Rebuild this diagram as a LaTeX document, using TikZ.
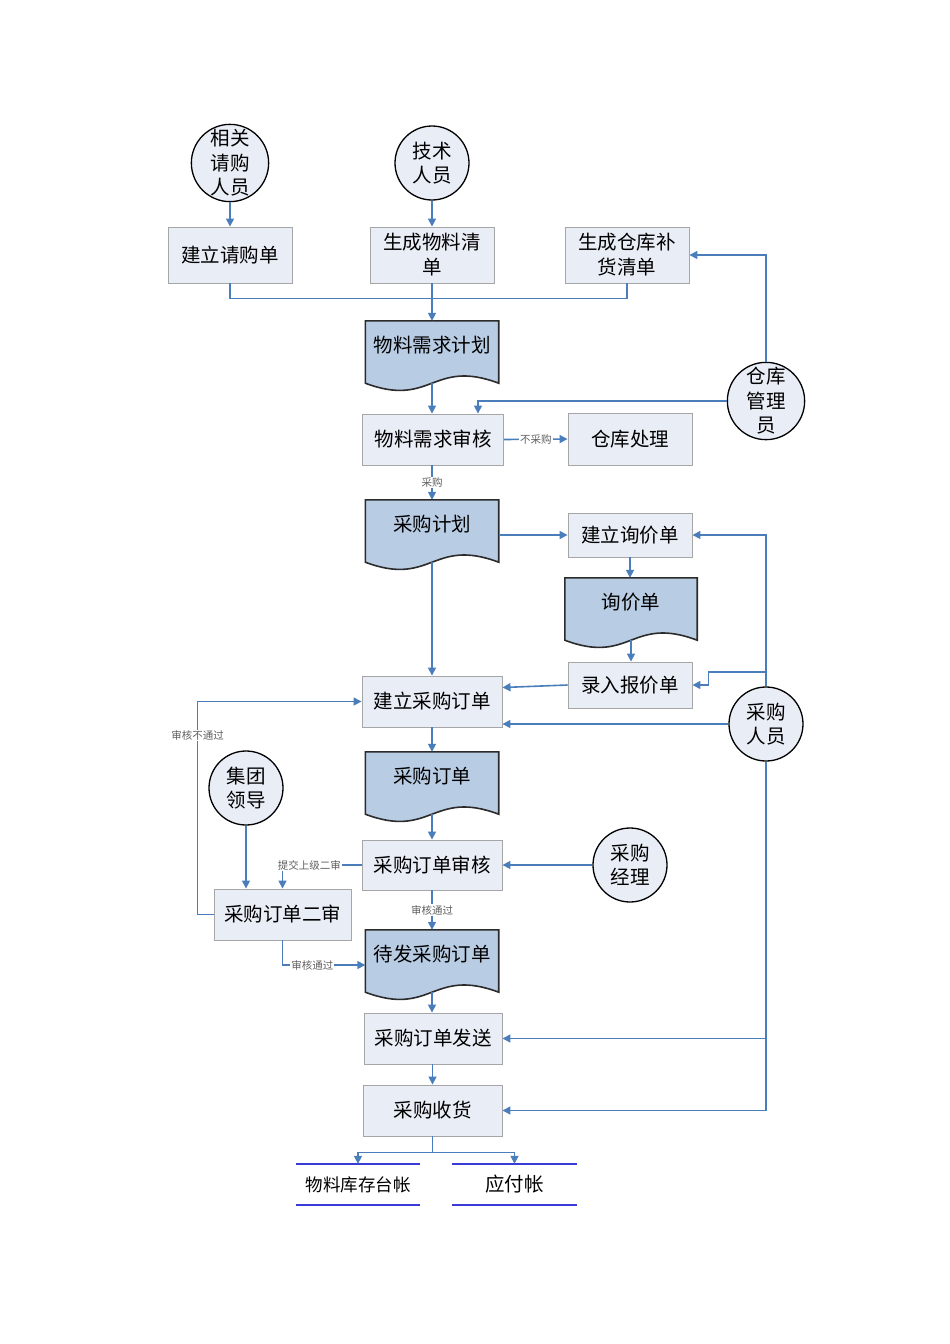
\documentclass[tikz,border=0pt]{standalone}
\usepackage{fontspec}
\setmainfont{Noto Sans CJK SC}
\usetikzlibrary{arrows.meta}
\definecolor{boxfill}{HTML}{E9EDF6}
\definecolor{boxline}{HTML}{A6A6A6}
\definecolor{docfill}{HTML}{B8CCE4}
\definecolor{docline}{HTML}{2B2B2B}
\definecolor{arrcol}{HTML}{4A7EBB}
\definecolor{storecol}{HTML}{3A3AD8}
\definecolor{lblcol}{HTML}{606060}
\tikzset{
  box/.style={draw=boxline, fill=boxfill, line width=0.9pt, inner sep=0pt, align=center,
    font=\fontsize{19.5}{25}\selectfont},
  circ/.style={circle, draw=black, fill=boxfill, line width=1.3pt, minimum size=74pt, inner sep=0pt,
    align=center, font=\fontsize{19.5}{24.5}\selectfont},
  docrect/.style={minimum height=70pt, inner sep=0pt},
  docpath/.style={draw=docline, fill=docfill, line width=1.6pt},
  doctext/.style={font=\fontsize{19.5}{25}\selectfont, inner sep=0pt},
  arr/.style={draw=arrcol, line width=1.6pt, -{Triangle[length=8pt,width=8pt]}},
  con/.style={draw=arrcol, line width=1.6pt},
  lbl/.style={fill=white, text=lblcol, inner sep=1pt, font=\fontsize{10.5}{11}\selectfont},
  store/.style={inner sep=0pt, minimum width=124pt, minimum height=41pt},
  storeline/.style={draw=storecol, line width=1.7pt},
}
\newcommand{\docu}[5]{%
  \node[docrect, minimum width=#4pt] (#1) at (#2,#3+35) {};
  \draw[docpath] (#1.north west) -- (#1.north east) -- ([yshift=8pt]#1.south east)
    .. controls ([xshift={-0.5*#4},yshift=33pt]#1.south east) and ([xshift={0.5*#4},yshift=-17pt]#1.south west)
    .. ([yshift=8pt]#1.south west) -- cycle;
  \node[doctext] at ([yshift=-24pt]#1.north) {#5};
}
\begin{document}
\begin{tikzpicture}[x=1pt,y=-1pt]
\useasboundingbox (0,0) rectangle (950,1344);

% top row
\node[circ] (c1) at (230,163) {相关\\请购\\人员};
\node[circ] (c2) at (432,163) {技术\\人员};
\node[box, minimum width=124pt, minimum height=56pt] (b1) at (230,255) {建立请购单};
\node[box, minimum width=124pt, minimum height=56pt] (b2) at (432,255) {生成物料清\\单};
\node[box, minimum width=124pt, minimum height=56pt] (b3) at (627,255) {生成仓库补\\货清单};

\draw[arr] (c1) -- (b1);
\draw[arr] (c2) -- (b2);

\docu{d1}{432}{321}{133}{物料需求计划}
\draw[con] (b1.south) -- ++(0,15) -| (b3.south);
\draw[arr] (b2.south) -- (d1.north);

\node[box, minimum width=141pt, minimum height=51pt] (m1) at (433,439.5) {物料需求审核};
\node[box, minimum width=124pt, minimum height=52pt] (w1) at (630,439) {仓库处理};
\node[circ] (c3) at (766,401) {仓库\\管理\\员};

\draw[arr] ([yshift=8pt]d1.south) -- (d1.south |- m1.north);
\draw[arr] (m1.east) -- node[lbl]{不采购} (w1.west);
\draw[arr] (c3.north) |- (b3.east);
\draw[arr] (c3.west) -| ([xshift=45pt]m1.north);

\docu{d2}{432}{500}{133}{采购计划}
\draw[arr] (m1.south -| d2.north) -- node[lbl]{采购} (d2.north);

\node[box, minimum width=124pt, minimum height=44pt] (q1) at (630,535) {建立询价单};
\docu{d3}{631}{578}{132}{询价单}
\node[box, minimum width=124pt, minimum height=46pt] (r1) at (630,685) {录入报价单};
\node[box, minimum width=140pt, minimum height=51pt] (p1) at (432,701.5) {建立采购订单};
\node[circ] (c4) at (766,724) {采购\\人员};

\draw[arr] (d2.east) -- (q1.west);
\draw[arr] (q1.south) -- (q1.south |- d3.north);
\draw[arr] ([yshift=8pt]d3.south) -- (d3.south |- r1.north);
\draw[arr] (r1.west) -- ([yshift=14pt]p1.east);
\draw[arr] ([yshift=8pt]d2.south) -- (p1.north);
\draw[arr] (c4.north) |- (q1.east);
\coordinate (j1) at (766,672);
\draw[arr] (j1) -| ([xshift=16pt]r1.east) -- (r1.east);
\draw[arr] (c4.west) -- (c4.west -| p1.east);

\docu{d4}{432}{752}{133}{采购订单}
\draw[arr] (p1.south) -- (d4.north);

\node[box, minimum width=140pt, minimum height=50pt] (a1) at (432,865) {采购订单审核};
\node[circ] (c5) at (630,865) {采购\\经理};
\node[circ] (c6) at (246,788) {集团\\领导};
\node[box, minimum width=137pt, minimum height=51pt] (a2) at (282.5,914.5) {采购订单二审};

\draw[arr] ([yshift=8pt]d4.south) -- (a1.north);
\draw[arr] (c5.west) -- (a1.east);
\draw[arr] (c6.south) -- (c6.south |- a2.north);
\draw[arr] (a1.west) -| node[lbl, pos=0.33]{提交上级二审} (a2.north);
\draw[arr] (a2.west) -- ++(-16,0) |- node[lbl, pos=0.42]{审核不通过} (p1.west);

\docu{d5}{432}{930}{133}{待发采购订单}
\draw[arr] (a1.south) -- node[lbl]{审核通过} (d5.north);
\draw[arr] (a2.south) |- node[lbl, pos=0.68]{审核通过} (d5.west);

\node[box, minimum width=138pt, minimum height=51pt] (s1) at (433,1038.5) {采购订单发送};
\node[box, minimum width=139pt, minimum height=51pt] (rc) at (432.5,1110.5) {采购收货};

\draw[arr] ([yshift=8pt]d5.south) -- (d5.south |- s1.north);
\draw[arr] (s1.south -| rc.north) -- (rc.north);
\draw[arr] (c4.south) |- (rc.east);
\draw[arr] (c4.south |- s1.east) -- (s1.east);

% data stores
\node[store, font=\fontsize{17.5}{20}\selectfont] (ds1) at (358,1184.5) {物料库存台帐};
\node[store, font=\fontsize{19.5}{22}\selectfont] (ds2) at (514.5,1184.5) {应付帐};
\draw[storeline] (ds1.north west) -- (ds1.north east);
\draw[storeline] (ds1.south west) -- (ds1.south east);
\draw[storeline] (ds2.north west) -- (ds2.north east);
\draw[storeline] (ds2.south west) -- (ds2.south east);

\draw[con] (rc.south) -- ++(0,16) coordinate (j2);
\draw[arr] (j2) -| (ds1.north);
\draw[arr] (j2) -| (ds2.north);
\end{tikzpicture}
\end{document}
